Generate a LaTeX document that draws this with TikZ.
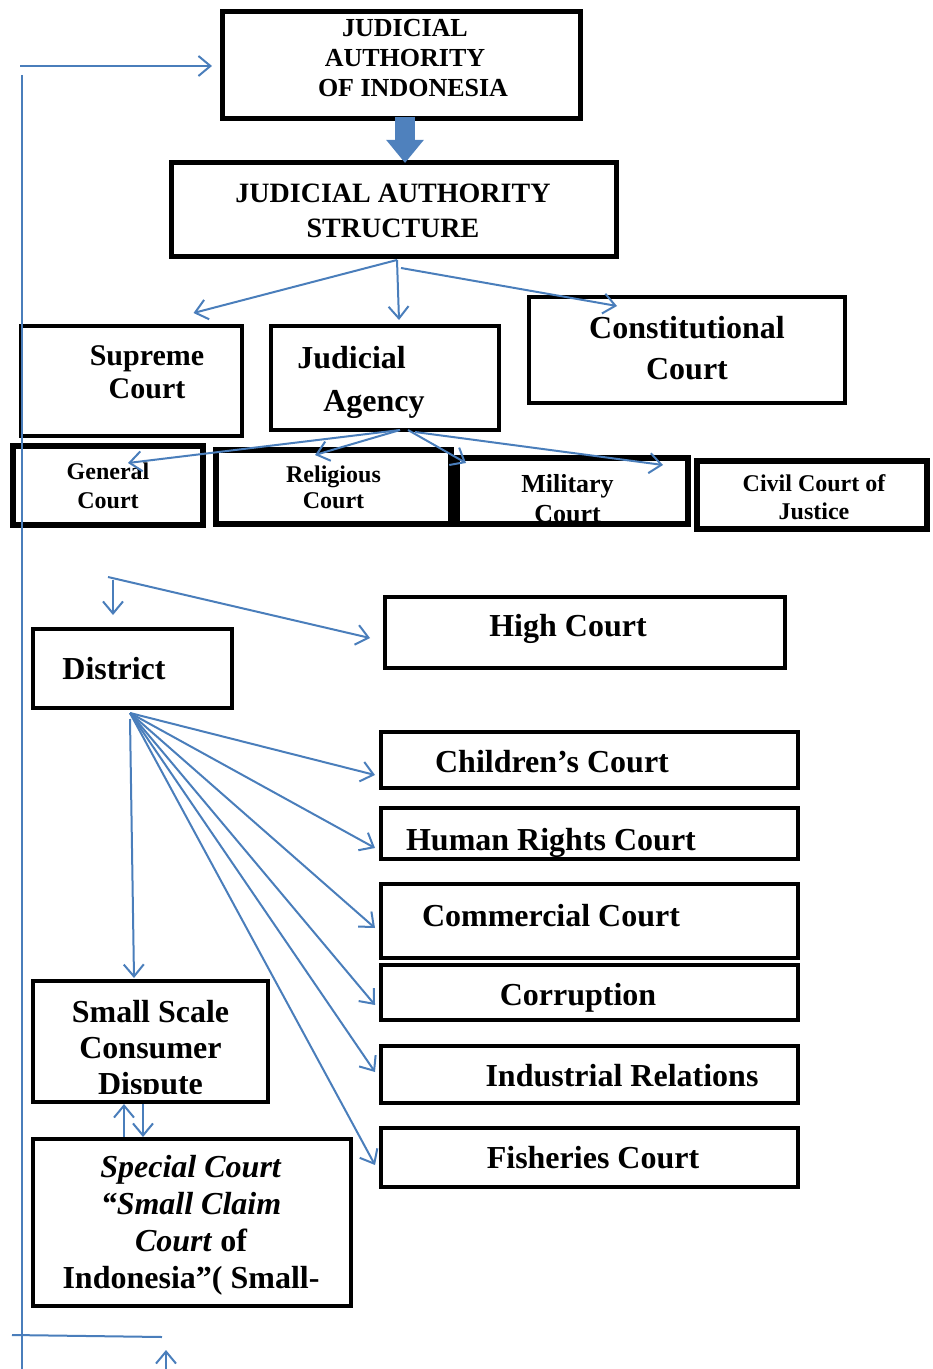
\documentclass[tikz,border=0pt]{standalone}
\usepackage{fontspec}
\setmainfont{Liberation Serif}
\usetikzlibrary{arrows.meta,calc,positioning}
\definecolor{lineblue}{HTML}{4A7EBB}
\definecolor{blockblue}{HTML}{4F81BD}
\tikzset{
	box/.style 2 args={draw=black, line width=2pt, inner sep=0pt, minimum width=#1, minimum height=#2},
	txt/.style={draw=none, align=center, inner sep=0pt},
	fs/.style 2 args={font=\fontsize{#1}{#2}\selectfont\bfseries},
	link/.style={draw=lineblue, line width=1pt},
	arr/.style={link, -{Straight Barb[length=6pt,width=10pt]}},
	bigarr/.style={draw=blockblue, line width=10pt, -{Triangle[length=11.5pt,width=18pt]}}
}
\begin{document}
\begin{tikzpicture}[x=0.5pt, y=-0.5pt]
	\useasboundingbox (0,0) rectangle (932,1369);
	%boxes
	\node[box={179pt}{53.5pt}, line width=2.5pt] (authority) at (401.5,65) {};
	\node[box={222.5pt}{47pt}, line width=2.5pt] (structure) at (394,209.5) {};
	\node[box={110.5pt}{55pt}] (supreme) at (131.5,381) {};
	\node[box={114pt}{52pt}] (agency) at (385,378) {};
	\node[box={158pt}{53pt}] (constitutional) at (687,350) {};
	\node[box={95pt}{39.5pt}, line width=3pt] (general) at (108,485.5) {};
	\node[box={117.5pt}{37pt}, line width=3pt] (religious) at (333.5,487) {};
	\node[box={115.5pt}{33pt}, line width=3pt] (military) at (572.5,491) {};
	\node[box={115pt}{34pt}, line width=3pt] (civil) at (812,495) {};
	\node[box={200pt}{35.5pt}] (high) at (585,632.5) {};
	\node[box={99.5pt}{39.5pt}] (district) at (132.5,668.5) {};
	\node[box={208.5pt}{28pt}] (children) at (589.5,760) {};
	\node[box={208.5pt}{25.5pt}] (human) at (589.5,833.5) {};
	\node[box={208.5pt}{37pt}] (commercial) at (589.5,921) {};
	\node[box={208.5pt}{27.5pt}] (corruption) at (589.5,992.5) {};
	\node[box={208.5pt}{28.5pt}] (industrial) at (589.5,1074.5) {};
	\node[box={208.5pt}{29.5pt}] (fisheries) at (589.5,1157.5) {};
	\node[box={117.5pt}{60.5pt}] (smallscale) at (150.5,1041.5) {};
	\node[box={159pt}{83.5pt}] (special) at (192,1222.5) {};
	%texts
	\node[txt, fs={13pt}{15pt}] at ($(authority.center)+(3.5,-6.5)$) {JUDICIAL\\AUTHORITY\\\hspace*{8pt}OF INDONESIA};
	\node[txt, fs={14pt}{17.5pt}] at ($(structure.center)+(-1,1)$) {JUDICIAL AUTHORITY\\STRUCTURE};
	\node[txt, fs={15pt}{16.5pt}] at ($(supreme.center)+(15.5,-8.5)$) {Supreme\\Court};
	\node[txt, fs={16pt}{21.5pt}, align=left] at ($(agency.center)+(-24,4)$) {Judicial\\\hspace*{13pt}Agency};
	\node[txt, fs={16pt}{20.5pt}] at ($(constitutional.center)+(0,-1.5)$) {Constitutional\\Court};
	\node[txt, fs={12pt}{14.5pt}] at (general.center) {General\\Court};
	\node[txt, fs={12pt}{13pt}] at ($(religious.center)+(0,0.5)$) {Religious\\Court};
	\node[txt, fs={13pt}{15pt}] at ($(military.center)+(-5,7.5)$) {Military\\Court};
	\node[txt, fs={12pt}{14pt}] at ($(civil.center)+(2,2)$) {Civil Court of\\Justice};
	\node[txt, fs={16pt}{18pt}] at ($(high.center)+(-17,-4)$) {High Court};
	\node[txt, fs={16pt}{18pt}] at ($(district.center)+(-18.5,0)$) {District};
	\node[txt, fs={16pt}{18pt}] at ($(children.center)+(-37.5,2)$) {Children’s Court};
	\node[txt, fs={16pt}{18pt}] at ($(human.center)+(-38.5,9)$) {Human Rights Court};
	\node[txt, fs={16pt}{18pt}] at ($(commercial.center)+(-38.5,-5)$) {Commercial Court};
	\node[txt, fs={16pt}{18pt}] at ($(corruption.center)+(-11.5,5)$) {Corruption};
	\node[txt, fs={16pt}{18pt}] at ($(industrial.center)+(32.5,1.5)$) {Industrial Relations};
	\node[txt, fs={16pt}{18pt}] at ($(fisheries.center)+(3.5,0.5)$) {Fisheries Court};
	\begin{scope}
		\clip ($(smallscale.south west)+(0,-11)$) rectangle (smallscale.north east);
		\node[txt, fs={16pt}{18pt}] at ($(smallscale.center)+(0,9)$) {Small Scale\\Consumer\\Dispute};
	\end{scope}
	\node[txt, fs={16pt}{18.5pt}] at ($(special.center)+(-1,3)$) {\textit{Special Court}\\\textit{“Small Claim}\\\textit{Court} of\\Indonesia”( Small-};
	%block arrow
	\draw[bigarr] ($(authority.south)+(3.5,-4)$) -- ($(structure.north)+(11,3)$);
	%structure fan
	\coordinate (sfan) at ($(structure.south)+(3,1)$);
	\draw[arr] (sfan) -- ($(supreme.north)+(62,-11)$);
	\draw[arr] (sfan) -- ($(agency.north)+(14,-4)$);
	\draw[arr] ($(structure.south)+(7,9)$) -- ($(constitutional.north)+(-70,11)$);
	%agency fan
	\coordinate (afan) at ($(agency.south)+(15,-2)$);
	\draw[arr] (afan) -- ($(general.north)+(20,20)$);
	\draw[arr] (afan) -- ($(religious.north)+(-18.5,8)$);
	\draw[arr] ($(afan)+(8,0)$) -- ($(military.north)+(-106.5,8)$);
	\draw[arr] ($(afan)+(15,2)$) -- ($(military.north)+(90.5,10)$);
	%high court and district
	\coordinate (gfoot) at (108,577);
	\draw[arr] (gfoot) -- ($(high.west)+(-13,5.5)$);
	\draw[arr] ($(gfoot)+(5,3)$) -- ($(district.north)+(-19.5,-12)$);
	%district fan
	\coordinate (dfan) at ($(district.south)+(-2.5,3)$);
	\foreach \court/\dy in {children/15, human/14.5, commercial/7, corruption/12.5, industrial/-2.5, fisheries/7.5}
	\draw[arr] (dfan) -- ($(\court.west)+(-4,\dy)$);
	\draw[arr] ($(dfan)+(0,6)$) -- ($(smallscale.north)+(-16.5,-1)$);
	%small claim
	\draw[arr] ($(special.north)+(-68,0)$) -- ($(smallscale.south)+(-26.5,0)$);
	\draw[arr] ($(smallscale.south)+(-7.5,0)$) -- ($(special.north)+(-49,0)$);
	%feedback line
	\coordinate (loopin) at (20,66);
	\coordinate (looptop) at (22,75);
	\coordinate (loopbot) at (22,1369);
	\coordinate (baseL) at (12,1335);
	\coordinate (baseR) at (162,1337);
	\coordinate (upfoot) at (166,1369);
	\coordinate (uptip) at (166,1350);
	\draw[arr] (loopin) -- ($(authority.west)+(-8,1)$);
	\draw[link] (looptop) -- (loopbot);
	\draw[link] (baseL) -- (baseR);
	\draw[arr] (upfoot) -- (uptip);
\end{tikzpicture}
\end{document}
